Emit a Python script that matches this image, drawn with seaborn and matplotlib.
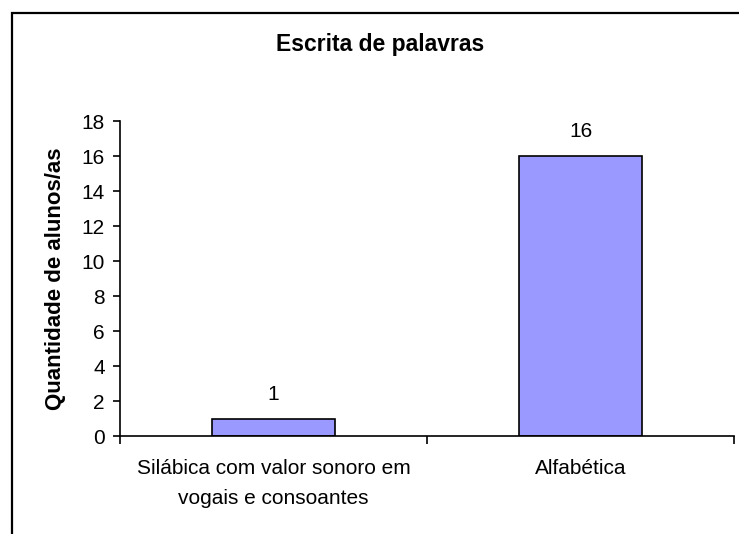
import matplotlib
matplotlib.use("Agg")
import matplotlib.pyplot as plt
import seaborn as sns
from matplotlib.patches import Rectangle

categories = ["Silábica com valor sonoro em\nvogais e consoantes", "Alfabética"]
values = [1, 16]
y_ticks = [0, 2, 4, 6, 8, 10, 12, 14, 16, 18]

sns.set_style("white")
plt.rcParams["font.family"] = ["Liberation Sans", "DejaVu Sans"]
plt.rcParams["text.color"] = "black"
plt.rcParams["axes.labelcolor"] = "black"
plt.rcParams["xtick.color"] = "black"
plt.rcParams["ytick.color"] = "black"

fig = plt.figure(figsize=(7.39, 5.34), dpi=100)
ax = fig.add_axes([0.1624, 0.1826, 0.8309, 0.5908])

sns.barplot(
    x=categories,
    y=values,
    color="#9999FF",
    saturation=1,
    width=0.4,
    edgecolor="black",
    linewidth=1.2,
    ax=ax
)

ax.set_xlim(-0.5, 1.5)
ax.set_ylim(0, 18)
ax.set_yticks(y_ticks)
ax.tick_params(axis="y", direction="out", length=5, width=1.2, pad=6,
               labelsize=15, left=True)
ax.tick_params(axis="x", which="major", length=0, pad=16, labelsize=15)
ax.set_xticks([-0.5, 0.5, 1.5], minor=True)
ax.tick_params(axis="x", which="minor", direction="out", length=6, width=1.2,
               bottom=True)
for lbl in ax.get_xticklabels():
    lbl.set_linespacing(1.75)

for side in ["top", "right"]:
    ax.spines[side].set_visible(False)
for side in ["left", "bottom"]:
    ax.spines[side].set_color("black")
    ax.spines[side].set_linewidth(1.2)

for c in ax.containers:
    ax.bar_label(c, padding=11, fontsize=15)

ax.set_ylabel("Quantidade de alunos/as", fontsize=16, fontweight="bold")
ax.yaxis.set_label_coords(-0.088, 0.5)

fig.text(0.515, 0.9176, "Escrita de palavras", ha="center", va="center",
         fontsize=16.5, fontweight="bold")

# outer chart frame (cut off at right and bottom like the source)
fig.patches.append(Rectangle((12 / 739, -0.1), 1.2, 0.1 + 1 - 13 / 534,
                             transform=fig.transFigure, fill=False,
                             edgecolor="black", linewidth=1.6))

fig.savefig("out.png", dpi=100)
plt.close()
